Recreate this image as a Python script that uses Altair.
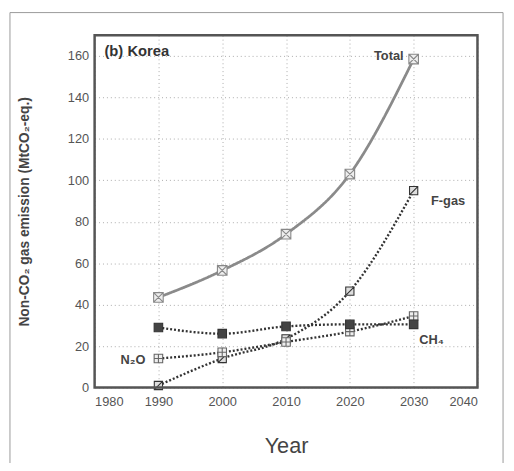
import altair as alt
import pandas as pd

years = [1990, 2000, 2010, 2020, 2030]
total = [43.5, 56.5, 74, 103, 158.5]
fgas = [1, 14, 23.5, 46.5, 95]
ch4 = [29, 26, 29.5, 30.5, 30.5]
n2o = [14, 17, 22, 27, 34.5]

label_text = ["Total", "F-gas", "CH₄", "N₂O"]
label_x = [2026.1, 2035.4, 2032.8, 1986.0]
label_y = [160, 90, 23, 13.3]

FONT = "Liberation Sans"

def df(vals):
    return pd.DataFrame({"year": years, "v": vals})

X = alt.X("year:Q", scale=alt.Scale(domain=[1980, 2040], nice=False),
          axis=alt.Axis(values=list(range(1980, 2041, 10)), format="d", title="Year",
                        titleFontSize=22, titleFontWeight="normal", titleColor="#444",
                        titlePadding=28, labelFontSize=13, labelColor="#555",
                        labelPadding=8, tickSize=0, grid=True, gridDash=[1, 3],
                        gridColor="#aaa", domain=False))
Y = alt.Y("v:Q", scale=alt.Scale(domain=[0, 170], nice=False),
          axis=alt.Axis(values=list(range(0, 161, 20)), title="Non-CO₂ gas emission (MtCO₂-eq.)",
                        titleFontSize=14, titleFontWeight="bold", titleColor="#444",
                        titlePadding=36, labelFontSize=13, labelColor="#555",
                        labelPadding=6, tickSize=0, grid=True, gridDash=[1, 3],
                        gridColor="#aaa", domain=False))

box_x = "M-1,-1L1,-1L1,1L-1,1Z M-1,-1L1,1 M1,-1L-1,1"
box_plus = "M-1,-1L1,-1L1,1L-1,1Z M0,-1L0,1 M-1,0L1,0"
box_diag = "M-1,-1L1,-1L1,1L-1,1Z M-1,1L1,-1"

def series(vals, dash, color, width, shape, fill, stroke, size):
    d = df(vals)
    line = alt.Chart(d).mark_line(interpolate="monotone", color=color, strokeWidth=width,
                                  strokeDash=dash).encode(x=X, y=alt.Y("v:Q"))
    pts = alt.Chart(d).mark_point(shape=shape, size=size, filled=False, fill=fill, fillOpacity=1,
                                  stroke=stroke, strokeWidth=1.1, opacity=1).encode(x="year:Q", y="v:Q")
    return [line, pts]

layers = []
layers += series(total, [1, 0], "#8a8a8a", 2.8, box_x, "#eee", "#888", 95)
layers += series(fgas, [2, 2], "#333", 2.4, box_diag, "#ddd", "#333", 70)
layers += series(n2o, [2, 2], "#333", 2.4, box_plus, "#eee", "#666", 75)
layers += series(ch4, [2, 2], "#333", 2.4, "square", "#444", "#333", 75)

base_axes = alt.Chart(df(total)).mark_point(opacity=0).encode(x=X, y=Y)

labels = alt.Chart(pd.DataFrame({"t": label_text, "x": label_x, "y": label_y})).mark_text(
    font=FONT, fontSize=13, fontWeight="bold", color="#444", align="center", baseline="middle"
).encode(x="x:Q", y="y:Q", text="t:N")

title = alt.Chart(pd.DataFrame({"t": ["(b) Korea"]})).mark_text(
    font=FONT, fontSize=15, fontWeight="bold", color="#333", align="left", baseline="middle"
).encode(x=alt.value(10), y=alt.value(16), text="t:N")

frame = alt.Chart(pd.DataFrame({"a": [0]})).mark_rect(
    fill=None, stroke="#999", strokeWidth=1, clip=False
).encode(x=alt.value(-86), x2=alt.value(415), y=alt.value(-23), y2=alt.value(438))

border = alt.Chart(pd.DataFrame({"a": [0]})).mark_rect(
    fill=None, stroke="#555", strokeWidth=2.5, clip=False
).encode(x=alt.value(0), x2=alt.value(389), y=alt.value(0), y2=alt.value(358))

chart = alt.layer(frame, base_axes, *layers, border, labels, title).properties(
    width=389, height=358,
    padding={"left": 88, "top": 24, "right": 29, "bottom": 73},
    autosize=alt.AutoSizeParams(type="none"),
).configure_view(stroke=None).configure(font=FONT)

chart.save("out.html", embed_options={"renderer": "svg", "actions": False})
